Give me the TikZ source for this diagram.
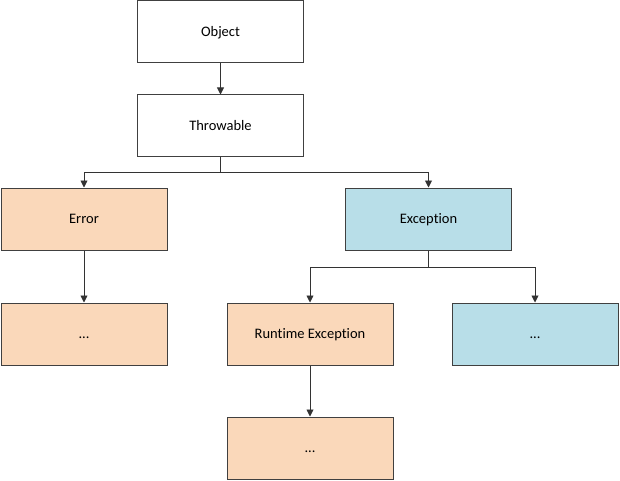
\documentclass[tikz,border=0pt]{standalone}
\usepackage{fontspec}
\setmainfont{Carlito}[Ligatures=NoCommon]
\usepackage{tikz}
\usetikzlibrary{positioning,arrows.meta}

\definecolor{peach}{HTML}{FAD8BA}
\definecolor{paleblue}{HTML}{B8DEE8}
\definecolor{rim}{HTML}{404040}

\begin{document}
\begin{tikzpicture}
    [ x = 1pt, y = -1pt
    , box/.style =
      { draw = rim, line width = 1pt, rectangle, minimum width = 166pt,
        minimum height = 62pt, font = \fontsize{14.5}{17}\selectfont, fill = white,
        text height = 1.38ex+3pt, text depth = 0pt }
    , err/.style =
      { box, fill = peach }
    , exc/.style =
      { box, fill = paleblue }
    , edge/.style =
      { draw = black!80, line width = .9pt, -{Triangle[width=7pt,length=7pt]} }
    ]
    \useasboundingbox (0,0) rectangle (620,481);

    \node [box] (object) at (220.5,32) {Object};
    \node [box] (throwable) at (220.5,126) {Throwable};
    \node [err] (error) at (84,219) {Error};
    \node [exc] (exception) at (428.5,219) {Exception};
    \node [err] (errdots) at (84,334) {...};
    \node [err] (runtime) at (310,334) {Runtime Exception};
    \node [exc] (excdots) at (535,334) {...};
    \node [err] (rtdots) at (310,448) {...};

    \draw [edge] (object) -- (throwable);
    \draw [edge] (throwable.south) -- +(0,15) -| (error.north);
    \draw [edge] (throwable.south) -- +(0,15) -| (exception.north);
    \draw [edge] (error) -- (errdots);
    \draw [edge] (exception.south) -- +(0,17) -| (runtime.north);
    \draw [edge] (exception.south) -- +(0,17) -| (excdots.north);
    \draw [edge] (runtime) -- (rtdots);
  \end{tikzpicture}
\end{document}
